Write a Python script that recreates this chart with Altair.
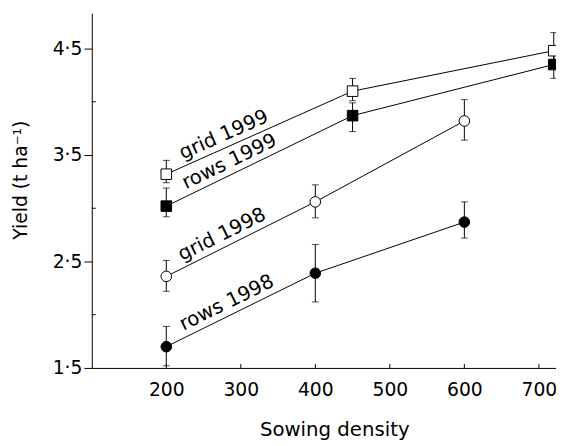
import altair as alt
import pandas as pd

# ---- data ----
series_names = ["grid 1999", "rows 1999", "grid 1998", "rows 1998"]

g99_x = [200, 450, 720]
g99_y = [3.32, 4.10, 4.48]
g99_lo = [3.24, 4.01, 4.33]
g99_hi = [3.45, 4.22, 4.65]

r99_x = [200, 450, 720]
r99_y = [3.02, 3.87, 4.35]
r99_lo = [2.92, 3.72, 4.22]
r99_hi = [3.19, 3.99, 4.45]

g98_x = [200, 400, 600]
g98_y = [2.36, 3.06, 3.82]
g98_lo = [2.22, 2.91, 3.64]
g98_hi = [2.51, 3.22, 4.02]

r98_x = [200, 400, 600]
r98_y = [1.70, 2.39, 2.87]
r98_lo = [1.52, 2.12, 2.72]
r98_hi = [1.89, 2.66, 3.06]

# in-plot labels (anchored just above the first segment of each line)
label_text = ["grid 1999", "rows 1999", "grid 1998", "rows 1998"]
label_x = [282.6, 290.5, 280.6, 287.0]
label_y = [3.605, 3.355, 2.670, 2.028]
label_angle = [336.0, 334.1, 333.5, 333.8]

x_ticks = [200, 300, 400, 500, 600, 700]
y_major = [1.5, 2.5, 3.5, 4.5]
y_minor = [2.0, 3.0, 4.0]

rows = []
for name, xs, ys, lo, hi in [
    ("grid 1999", g99_x, g99_y, g99_lo, g99_hi),
    ("rows 1999", r99_x, r99_y, r99_lo, r99_hi),
    ("grid 1998", g98_x, g98_y, g98_lo, g98_hi),
    ("rows 1998", r98_x, r98_y, r98_lo, r98_hi),
]:
    for a, b, c, d in zip(xs, ys, lo, hi):
        rows.append({"series": name, "density": a, "yield": b, "lo": c, "hi": d})
df = pd.DataFrame(rows)

labels = pd.DataFrame({"text": label_text, "x": label_x, "y": label_y, "angle": label_angle})
xt = pd.DataFrame({"x": x_ticks})
ym = pd.DataFrame({"y": y_minor})

FONT = "DejaVu Sans"

xscale = alt.Scale(domain=[100, 723], nice=False, zero=False)
yscale = alt.Scale(domain=[1.5, 4.833], nice=False, zero=False)

x_enc = alt.X(
    "density:Q",
    scale=xscale,
    axis=alt.Axis(
        values=x_ticks, format="d", ticks=False, tickSize=0, labelPadding=13,
        title="Sowing density", titleX=246, titleY=69, titleBaseline="alphabetic",
        titleAlign="center", titleAnchor="middle", titleFontSize=20,
    ),
)
y_enc = alt.Y(
    "yield:Q",
    scale=yscale,
    axis=alt.Axis(
        values=y_major, tickSize=8, labelPadding=2,
        labelExpr="replace(format(datum.value, '.1f'), '.', '\u00b7')",
        title="Yield (t ha\u207b\u00b9)", titleX=-66, titleY=169, titleAngle=270,
        titleBaseline="alphabetic", titleAlign="center", titleFontSize=19,
    ),
)

base = alt.Chart(df)

err = base.mark_rule(color="black", strokeWidth=1).encode(
    x=alt.X("density:Q", scale=xscale),
    y=alt.Y("lo:Q", scale=yscale),
    y2="hi:Q",
)
cap_lo = base.mark_tick(color="black", thickness=1, size=7, orient="horizontal").encode(
    x=alt.X("density:Q", scale=xscale), y=alt.Y("lo:Q", scale=yscale)
)
cap_hi = base.mark_tick(color="black", thickness=1, size=7, orient="horizontal").encode(
    x=alt.X("density:Q", scale=xscale), y=alt.Y("hi:Q", scale=yscale)
)

lines = base.mark_line(color="black", strokeWidth=1).encode(
    x=x_enc, y=y_enc, detail="series:N", order="density:Q"
)

points = base.mark_point(stroke="black", strokeWidth=1, opacity=1, filled=False).encode(
    x=alt.X("density:Q", scale=xscale),
    y=alt.Y("yield:Q", scale=yscale),
    shape=alt.Shape("series:N", scale=alt.Scale(domain=series_names,
                    range=["square", "square", "circle", "circle"]), legend=None),
    fill=alt.Fill("series:N", scale=alt.Scale(domain=series_names,
                  range=["white", "black", "white", "black"]), legend=None),
    size=alt.Size("series:N", scale=alt.Scale(domain=series_names,
                  range=[115, 115, 100, 100]), legend=None),
)

texts = alt.Chart(labels).mark_text(
    font=FONT, fontSize=20, align="center", baseline="bottom", color="black"
).encode(
    x=alt.X("x:Q", scale=xscale),
    y=alt.Y("y:Q", scale=yscale),
    text="text:N",
    angle=alt.Angle("angle:Q", scale=None),
)

xticks_in = alt.Chart(xt).mark_rule(color="black", strokeWidth=1).encode(
    x=alt.X("x:Q", scale=xscale), y=alt.value(360), y2=alt.value(356)
)
yticks_in = alt.Chart(ym).mark_rule(color="black", strokeWidth=1).encode(
    y=alt.Y("y:Q", scale=yscale), x=alt.value(0), x2=alt.value(4)
)

chart = alt.layer(
    lines, err, cap_lo, cap_hi, points, texts, xticks_in, yticks_in
).properties(
    width=471, height=360,
    background="white",
    autosize=alt.AutoSizeParams(type="none"),
    padding={"left": 85, "top": 2, "right": 0, "bottom": 76},
).configure_axis(
    labelFont=FONT, labelFontSize=19, labelColor="black",
    titleFont=FONT, titleFontSize=19, titleColor="black", titleFontWeight="normal",
    domainColor="black", domainWidth=1, tickColor="black", tickWidth=1, grid=False,
).configure_view(stroke=None)

chart.save("out.html", embed_options={"renderer": "svg", "actions": False})
